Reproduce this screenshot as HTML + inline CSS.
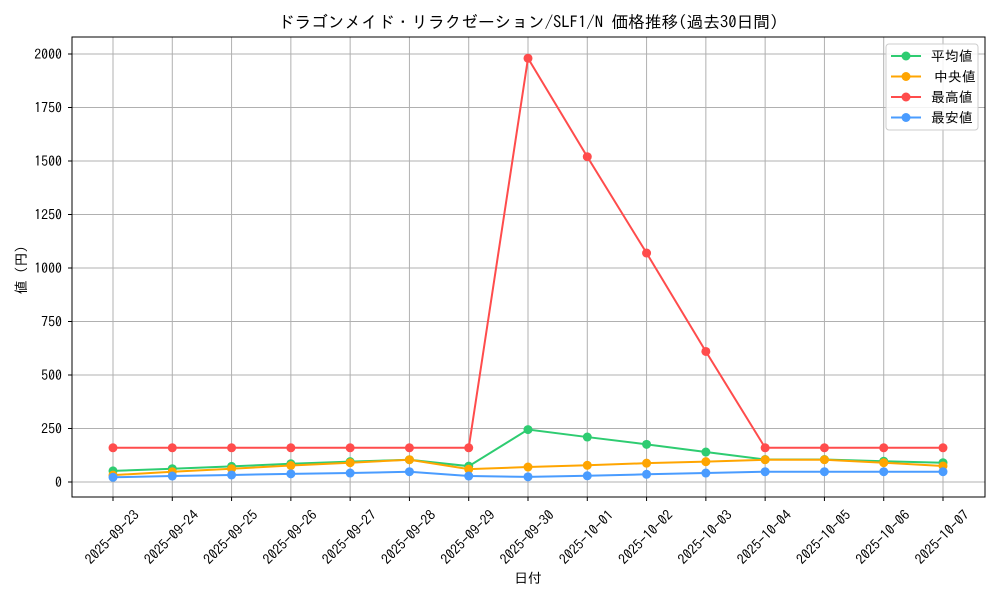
<!DOCTYPE html>
<html><head><meta charset="utf-8"><style>
body{margin:0;background:#fff;}
svg text{font-family:"IPAGothic","Noto Sans CJK JP",monospace;fill:#000;}
</style></head><body>
<svg id="c" width="1000" height="600" viewBox="0 0 1000 600"></svg>
<script>
const categories=["2025-09-23","2025-09-24","2025-09-25","2025-09-26","2025-09-27","2025-09-28","2025-09-29","2025-09-30","2025-10-01","2025-10-02","2025-10-03","2025-10-04","2025-10-05","2025-10-06","2025-10-07"];
const avgValues=[52,62,73,85,95,104,74,245,210,176,140,105,105,97,90];
const medianValues=[32,48,62,77,90,104,60,70,78,88,95,104,104,90,75];
const maxValues=[160,160,160,160,160,160,160,1980,1520,1070,610,160,160,160,160];
const minValues=[22,28,33,38,42,48,28,24,29,36,42,48,48,48,48];
const yTicks=[0,250,500,750,1000,1250,1500,1750,2000];
const seriesNames=["平均値","中央値","最高値","最安値"];
const seriesColors=["#2ecc71","#ffa500","#ff4c4c","#4a9cff"];
const seriesData=[avgValues,medianValues,maxValues,minValues];
const seriesKeys=["avg","median","max","min"];

const NS="http://www.w3.org/2000/svg";
const svg=document.getElementById('c');
const L=72,R=985,T=37,B=497;
const x=i=>113+i*(943-113)/(categories.length-1);
const y=v=>482-v*(482-54)/2000;
function el(t,a,p){const e=document.createElementNS(NS,t);for(const k in a)e.setAttribute(k,a[k]);(p||svg).appendChild(e);return e;}
const t=el('text',{x:528,y:28,'text-anchor':'middle','font-size':16.7});t.textContent="ドラゴンメイド・リラクゼーション/SLF1/N 価格推移(過去30日間)";


const grid=el('g',{});


categories.forEach((c,i)=>{
  el('line',{x1:x(i),x2:x(i),y1:T,y2:B,stroke:'#b0b0b0','stroke-width':1},grid);
  el('line',{x1:x(i),x2:x(i),y1:B,y2:B+4,stroke:'#000'});
  const lb=el('text',{x:0,y:0,'font-size':13.9,'text-anchor':'middle','dominant-baseline':'central',transform:`translate(${x(i)-1},${B+40}) rotate(-45)`});
  lb.textContent=c;
  
  
});
yTicks.forEach(v=>{
  el('line',{x1:L,x2:R,y1:y(v),y2:y(v),stroke:'#b0b0b0','stroke-width':1},grid);
  el('line',{x1:L-4,x2:L,y1:y(v),y2:y(v),stroke:'#000'});
  const lb=el('text',{x:L-10,y:y(v)+5,'font-size':13.9,'text-anchor':'end'});lb.textContent=v;
  
  
});
const fr=el('rect',{x:L,y:T,width:R-L,height:B-T,fill:'none',stroke:'#000','stroke-width':1});


const xt=el('text',{x:528,y:583,'font-size':13.9,'text-anchor':'middle'});xt.textContent="日付";


const yt=el('text',{x:0,y:0,'font-size':13.9,'text-anchor':'middle',transform:'translate(26,270) rotate(-90)'});yt.textContent="値 (円)";


seriesData.forEach((d,s)=>{
  const g=el('g',{});
  
  
  el('polyline',{points:d.map((v,i)=>x(i)+','+y(v)).join(' '),fill:'none',stroke:seriesColors[s],'stroke-width':2},g);
  d.forEach((v,i)=>{const c=el('circle',{cx:x(i),cy:y(v),r:4.5,fill:seriesColors[s]},g);
    
    });
});
const lg=el('g',{});


el('rect',{x:886,y:44,width:92,height:86,rx:3,fill:'#fff','fill-opacity':0.85,stroke:'#ccc'},lg);
seriesNames.forEach((n,s)=>{
  const yy=56+s*20.5;
  const e=el('g',{},lg);
  
  
  el('line',{x1:891,x2:921,y1:yy,y2:yy,stroke:seriesColors[s],'stroke-width':2},e);
  el('circle',{cx:906,cy:yy,r:4.5,fill:seriesColors[s]},e);
  const tx=el('text',{x:s==1?934:931,y:yy+5,'font-size':13.9},e);tx.textContent=n;
});
</script>
</body></html>
